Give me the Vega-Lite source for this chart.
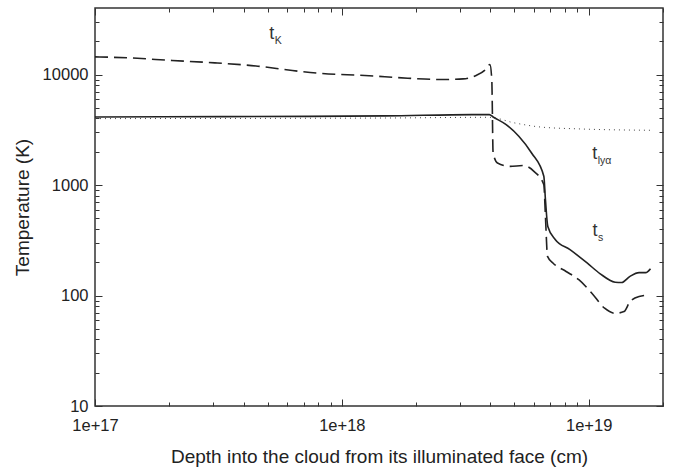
{
  "$schema": "https://vega.github.io/schema/vega-lite/v6.json",
  "width": 568,
  "height": 398,
  "autosize": "none",
  "padding": {"left": 95, "top": 8, "right": 10, "bottom": 64},
  "background": "#ffffff",
  "config": {
    "view": {"stroke": "#333333", "strokeWidth": 1.5},
    "font": "Liberation Sans",
    "axis": {"grid": false, "domain": false, "labelFont": "Liberation Sans", "titleFont": "Liberation Sans", "labelColor": "#222222", "titleColor": "#222222", "tickColor": "#333333", "titleFontWeight": "normal", "labelFontSize": 16.5, "titleFontSize": 19}
  },
  "datasets": {
    "curves": [
      {"series": "tk", "x": 1e17, "y": 14450},
      {"series": "tk", "x": 1.37e17, "y": 14150},
      {"series": "tk", "x": 2.05e17, "y": 13400},
      {"series": "tk", "x": 3.06e17, "y": 12760},
      {"series": "tk", "x": 4.57e17, "y": 11900},
      {"series": "tk", "x": 6.3e17, "y": 10870},
      {"series": "tk", "x": 8.3e17, "y": 10210},
      {"series": "tk", "x": 1.24e18, "y": 9800},
      {"series": "tk", "x": 1.85e18, "y": 9260},
      {"series": "tk", "x": 2.54e18, "y": 9010},
      {"series": "tk", "x": 3.1e18, "y": 9130},
      {"series": "tk", "x": 3.5e18, "y": 9800},
      {"series": "tk", "x": 3.8e18, "y": 10950},
      {"series": "tk", "x": 3.98e18, "y": 12300},
      {"series": "tk", "x": 4.05e18, "y": 9000},
      {"series": "tk", "x": 4.1e18, "y": 1950},
      {"series": "tk", "x": 4.27e18, "y": 1580},
      {"series": "tk", "x": 4.8e18, "y": 1475},
      {"series": "tk", "x": 5.43e18, "y": 1500},
      {"series": "tk", "x": 6.0e18, "y": 1330},
      {"series": "tk", "x": 6.58e18, "y": 1007},
      {"series": "tk", "x": 6.68e18, "y": 520},
      {"series": "tk", "x": 6.81e18, "y": 226},
      {"series": "tk", "x": 7.18e18, "y": 196},
      {"series": "tk", "x": 8.1e18, "y": 165},
      {"series": "tk", "x": 9.12e18, "y": 139},
      {"series": "tk", "x": 1.03e19, "y": 105},
      {"series": "tk", "x": 1.16e19, "y": 76.7},
      {"series": "tk", "x": 1.28e19, "y": 69},
      {"series": "tk", "x": 1.39e19, "y": 71.5},
      {"series": "tk", "x": 1.47e19, "y": 88},
      {"series": "tk", "x": 1.6e19, "y": 98},
      {"series": "tk", "x": 1.76e19, "y": 101},
      {"series": "ts", "x": 1e17, "y": 4130},
      {"series": "ts", "x": 3.3e17, "y": 4160},
      {"series": "ts", "x": 1.5e18, "y": 4220},
      {"series": "ts", "x": 3.36e18, "y": 4340},
      {"series": "ts", "x": 3.96e18, "y": 4340},
      {"series": "ts", "x": 4.1e18, "y": 4130},
      {"series": "ts", "x": 4.63e18, "y": 3520},
      {"series": "ts", "x": 5.21e18, "y": 2760},
      {"series": "ts", "x": 5.87e18, "y": 1950},
      {"series": "ts", "x": 6.58e18, "y": 1200},
      {"series": "ts", "x": 6.68e18, "y": 737},
      {"series": "ts", "x": 6.83e18, "y": 422},
      {"series": "ts", "x": 7.33e18, "y": 320},
      {"series": "ts", "x": 8.4e18, "y": 260},
      {"series": "ts", "x": 9.88e18, "y": 196},
      {"series": "ts", "x": 1.11e19, "y": 158},
      {"series": "ts", "x": 1.28e19, "y": 132},
      {"series": "ts", "x": 1.36e19, "y": 131},
      {"series": "ts", "x": 1.47e19, "y": 149},
      {"series": "ts", "x": 1.6e19, "y": 161},
      {"series": "ts", "x": 1.7e19, "y": 161},
      {"series": "ts", "x": 1.78e19, "y": 175},
      {"series": "tly", "x": 1e17, "y": 3990},
      {"series": "tly", "x": 1.5e18, "y": 4040},
      {"series": "tly", "x": 3.96e18, "y": 4100},
      {"series": "tly", "x": 5.0e18, "y": 3650},
      {"series": "tly", "x": 6.37e18, "y": 3350},
      {"series": "tly", "x": 9.12e18, "y": 3220},
      {"series": "tly", "x": 1.78e19, "y": 3130}
    ],
    "labels": [
      {"main": "t", "sub": "K", "x": 5.2e17, "y": 23200},
      {"main": "t", "sub": "lyα", "x": 1.057e19, "y": 1905},
      {"main": "t", "sub": "s", "x": 1.06e19, "y": 384}
    ]
  },
  "layer": [
    {
      "data": {"name": "curves"},
      "transform": [{"filter": "datum.series == 'tk'"}],
      "mark": {"type": "line", "color": "#222222", "strokeWidth": 1.6, "strokeDash": [13, 6], "interpolate": "monotone"},
      "encoding": {
        "x": {"field": "x", "type": "quantitative", "scale": {"type": "log", "domain": [1e17, 2e19], "nice": false},
          "axis": {"orient": "bottom", "title": "Depth into the cloud from its illuminated face (cm)",
            "values": [1e17, 2e17, 3e17, 4e17, 5e17, 6e17, 7e17, 8e17, 9e17, 1e18, 2e18, 3e18, 4e18, 5e18, 6e18, 7e18, 8e18, 9e18, 1e19, 2e19],
            "labelExpr": "indexof([1e17, 1e18, 1e19], datum.value) >= 0 ? format(datum.value, '.0e') : ''",
            "tickSize": {"condition": {"test": "indexof([1e17, 1e18, 1e19], datum.value) >= 0", "value": -7}, "value": -4},
            "labelPadding": 18, "titlePadding": 14, "labelFlush": false}},
        "y": {"field": "y", "type": "quantitative", "scale": {"type": "log", "domain": [10, 40000], "nice": false},
          "axis": {"orient": "left", "title": "Temperature (K)",
            "values": [10, 20, 30, 40, 50, 60, 70, 80, 90, 100, 200, 300, 400, 500, 600, 700, 800, 900, 1000, 2000, 3000, 4000, 5000, 6000, 7000, 8000, 9000, 10000, 20000, 30000],
            "labelExpr": "indexof([10, 100, 1000, 10000], datum.value) >= 0 ? format(datum.value, 'd') : ''",
            "tickSize": {"condition": {"test": "indexof([10, 100, 1000, 10000], datum.value) >= 0", "value": -7}, "value": -4},
            "labelPadding": 14, "titlePadding": 10}}
      }
    },
    {
      "data": {"name": "curves"},
      "transform": [{"filter": "datum.series == 'ts'"}],
      "mark": {"type": "line", "color": "#222222", "strokeWidth": 1.6, "interpolate": "monotone"},
      "encoding": {
        "x": {"field": "x", "type": "quantitative", "scale": {"type": "log", "domain": [1e17, 2e19], "nice": false},
          "axis": {"orient": "top", "title": null, "labels": false,
            "values": [1e17, 2e17, 3e17, 4e17, 5e17, 6e17, 7e17, 8e17, 9e17, 1e18, 2e18, 3e18, 4e18, 5e18, 6e18, 7e18, 8e18, 9e18, 1e19, 2e19],
            "tickSize": {"condition": {"test": "indexof([1e17, 1e18, 1e19], datum.value) >= 0", "value": -7}, "value": -4}}},
        "y": {"field": "y", "type": "quantitative", "scale": {"type": "log", "domain": [10, 40000], "nice": false},
          "axis": {"orient": "right", "title": null, "labels": false,
            "values": [10, 20, 30, 40, 50, 60, 70, 80, 90, 100, 200, 300, 400, 500, 600, 700, 800, 900, 1000, 2000, 3000, 4000, 5000, 6000, 7000, 8000, 9000, 10000, 20000, 30000],
            "tickSize": {"condition": {"test": "indexof([10, 100, 1000, 10000], datum.value) >= 0", "value": -7}, "value": -4}}}
      }
    },
    {
      "data": {"name": "curves"},
      "transform": [{"filter": "datum.series == 'tly'"}],
      "mark": {"type": "line", "color": "#444444", "strokeWidth": 1, "strokeDash": [1, 4], "interpolate": "monotone"},
      "encoding": {
        "x": {"field": "x", "type": "quantitative", "scale": {"type": "log", "domain": [1e17, 2e19], "nice": false}, "axis": null},
        "y": {"field": "y", "type": "quantitative", "scale": {"type": "log", "domain": [10, 40000], "nice": false}, "axis": null}
      }
    },
    {
      "data": {"name": "labels"},
      "mark": {"type": "text", "fontSize": 18, "color": "#333333", "align": "center", "baseline": "middle"},
      "encoding": {
        "x": {"field": "x", "type": "quantitative", "scale": {"type": "log", "domain": [1e17, 2e19], "nice": false}, "axis": null},
        "y": {"field": "y", "type": "quantitative", "scale": {"type": "log", "domain": [10, 40000], "nice": false}, "axis": null},
        "text": {"field": "main"}
      }
    },
    {
      "data": {"name": "labels"},
      "mark": {"type": "text", "fontSize": 10.5, "color": "#333333", "align": "left", "baseline": "middle", "dx": 3, "dy": 7},
      "encoding": {
        "x": {"field": "x", "type": "quantitative", "scale": {"type": "log", "domain": [1e17, 2e19], "nice": false}, "axis": null},
        "y": {"field": "y", "type": "quantitative", "scale": {"type": "log", "domain": [10, 40000], "nice": false}, "axis": null},
        "text": {"field": "sub"}
      }
    }
  ],
  "resolve": {"axis": {"x": "independent", "y": "independent"}}
}
